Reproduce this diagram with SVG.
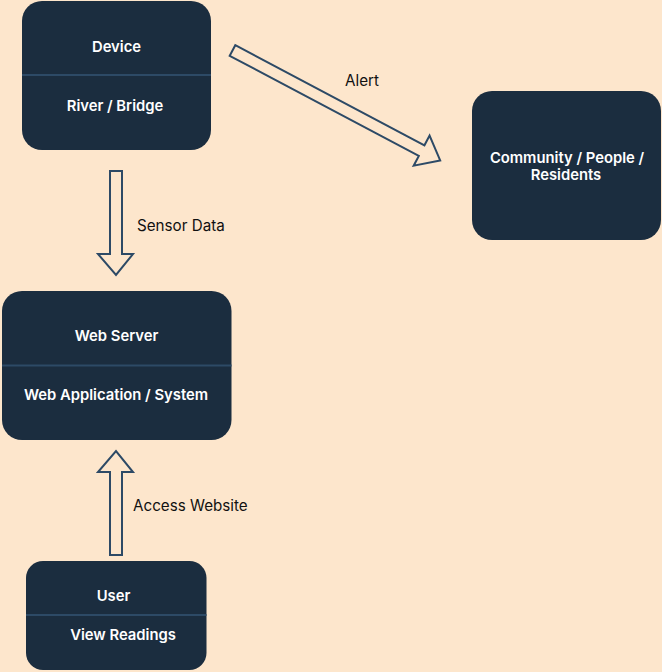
<svg xmlns="http://www.w3.org/2000/svg" width="662" height="672" viewBox="0 0 662 672">
  <style>
    .box { fill: #1B2D3F; }
    .div { stroke: #2D4A66; stroke-width: 2; }
    .title { font-family: Inter, "Open Sans", "Liberation Sans", sans-serif; font-size: 14.8px; font-weight: 600; fill: #FFFFFF; text-anchor: middle; }
    .lbl { font-family: Inter, "Open Sans", "Liberation Sans", sans-serif; font-size: 15.2px; fill: #111111; }
    .arrow { fill: #FDE6CC; stroke: #2D4A66; stroke-width: 2; stroke-linejoin: miter; }
  </style>
  <rect width="662" height="672" fill="#FDE6CC"/>

  <g id="connectors">
    <!-- Device -> Web Server -->
    <g id="edge-sensor">
      <polygon class="arrow" points="110,171 122,171 122,254 133,254 116,275 98,254 110,254"/>
      <text class="lbl" x="137" y="231">Sensor Data</text>
    </g>
    <!-- Device -> Community -->
    <g id="edge-alert">
      <polygon class="arrow" transform="translate(232.5,50.5) rotate(27.9)" points="0,-6 214,-6 214,-17 235,0 214,17 214,6 0,6"/>
      <text class="lbl" x="345" y="86">Alert</text>
    </g>
    <!-- User -> Web Server -->
    <g id="edge-access">
      <polygon class="arrow" points="110,555 122,555 122,472 133,472 116,451 98,472 110,472"/>
      <text class="lbl" x="133" y="511">Access Website</text>
    </g>
  </g>

  <g id="device">
    <rect class="box" x="22" y="1" width="189" height="149" rx="20"/>
    <line class="div" x1="22" y1="75" x2="211" y2="75"/>
    <text class="title" x="116.5" y="52">Device</text>
    <text class="title" x="115" y="111">River / Bridge</text>
  </g>

  <g id="community">
    <rect class="box" x="472" y="91" width="189" height="149" rx="20"/>
    <text class="title" x="567" y="163">Community / People /</text>
    <text class="title" x="566" y="180">Residents</text>
  </g>

  <g id="web-server">
    <rect class="box" x="2" y="291" width="229.5" height="149" rx="20"/>
    <line class="div" x1="2" y1="365.5" x2="231.5" y2="365.5"/>
    <text class="title" x="116.5" y="341">Web Server</text>
    <text class="title" x="116" y="400">Web Application / System</text>
  </g>

  <g id="user">
    <rect class="box" x="26" y="561" width="180.5" height="109" rx="17"/>
    <line class="div" x1="26" y1="615" x2="206.5" y2="615"/>
    <text class="title" x="113.5" y="601">User</text>
    <text class="title" x="123" y="640">View Readings</text>
  </g>
</svg>
